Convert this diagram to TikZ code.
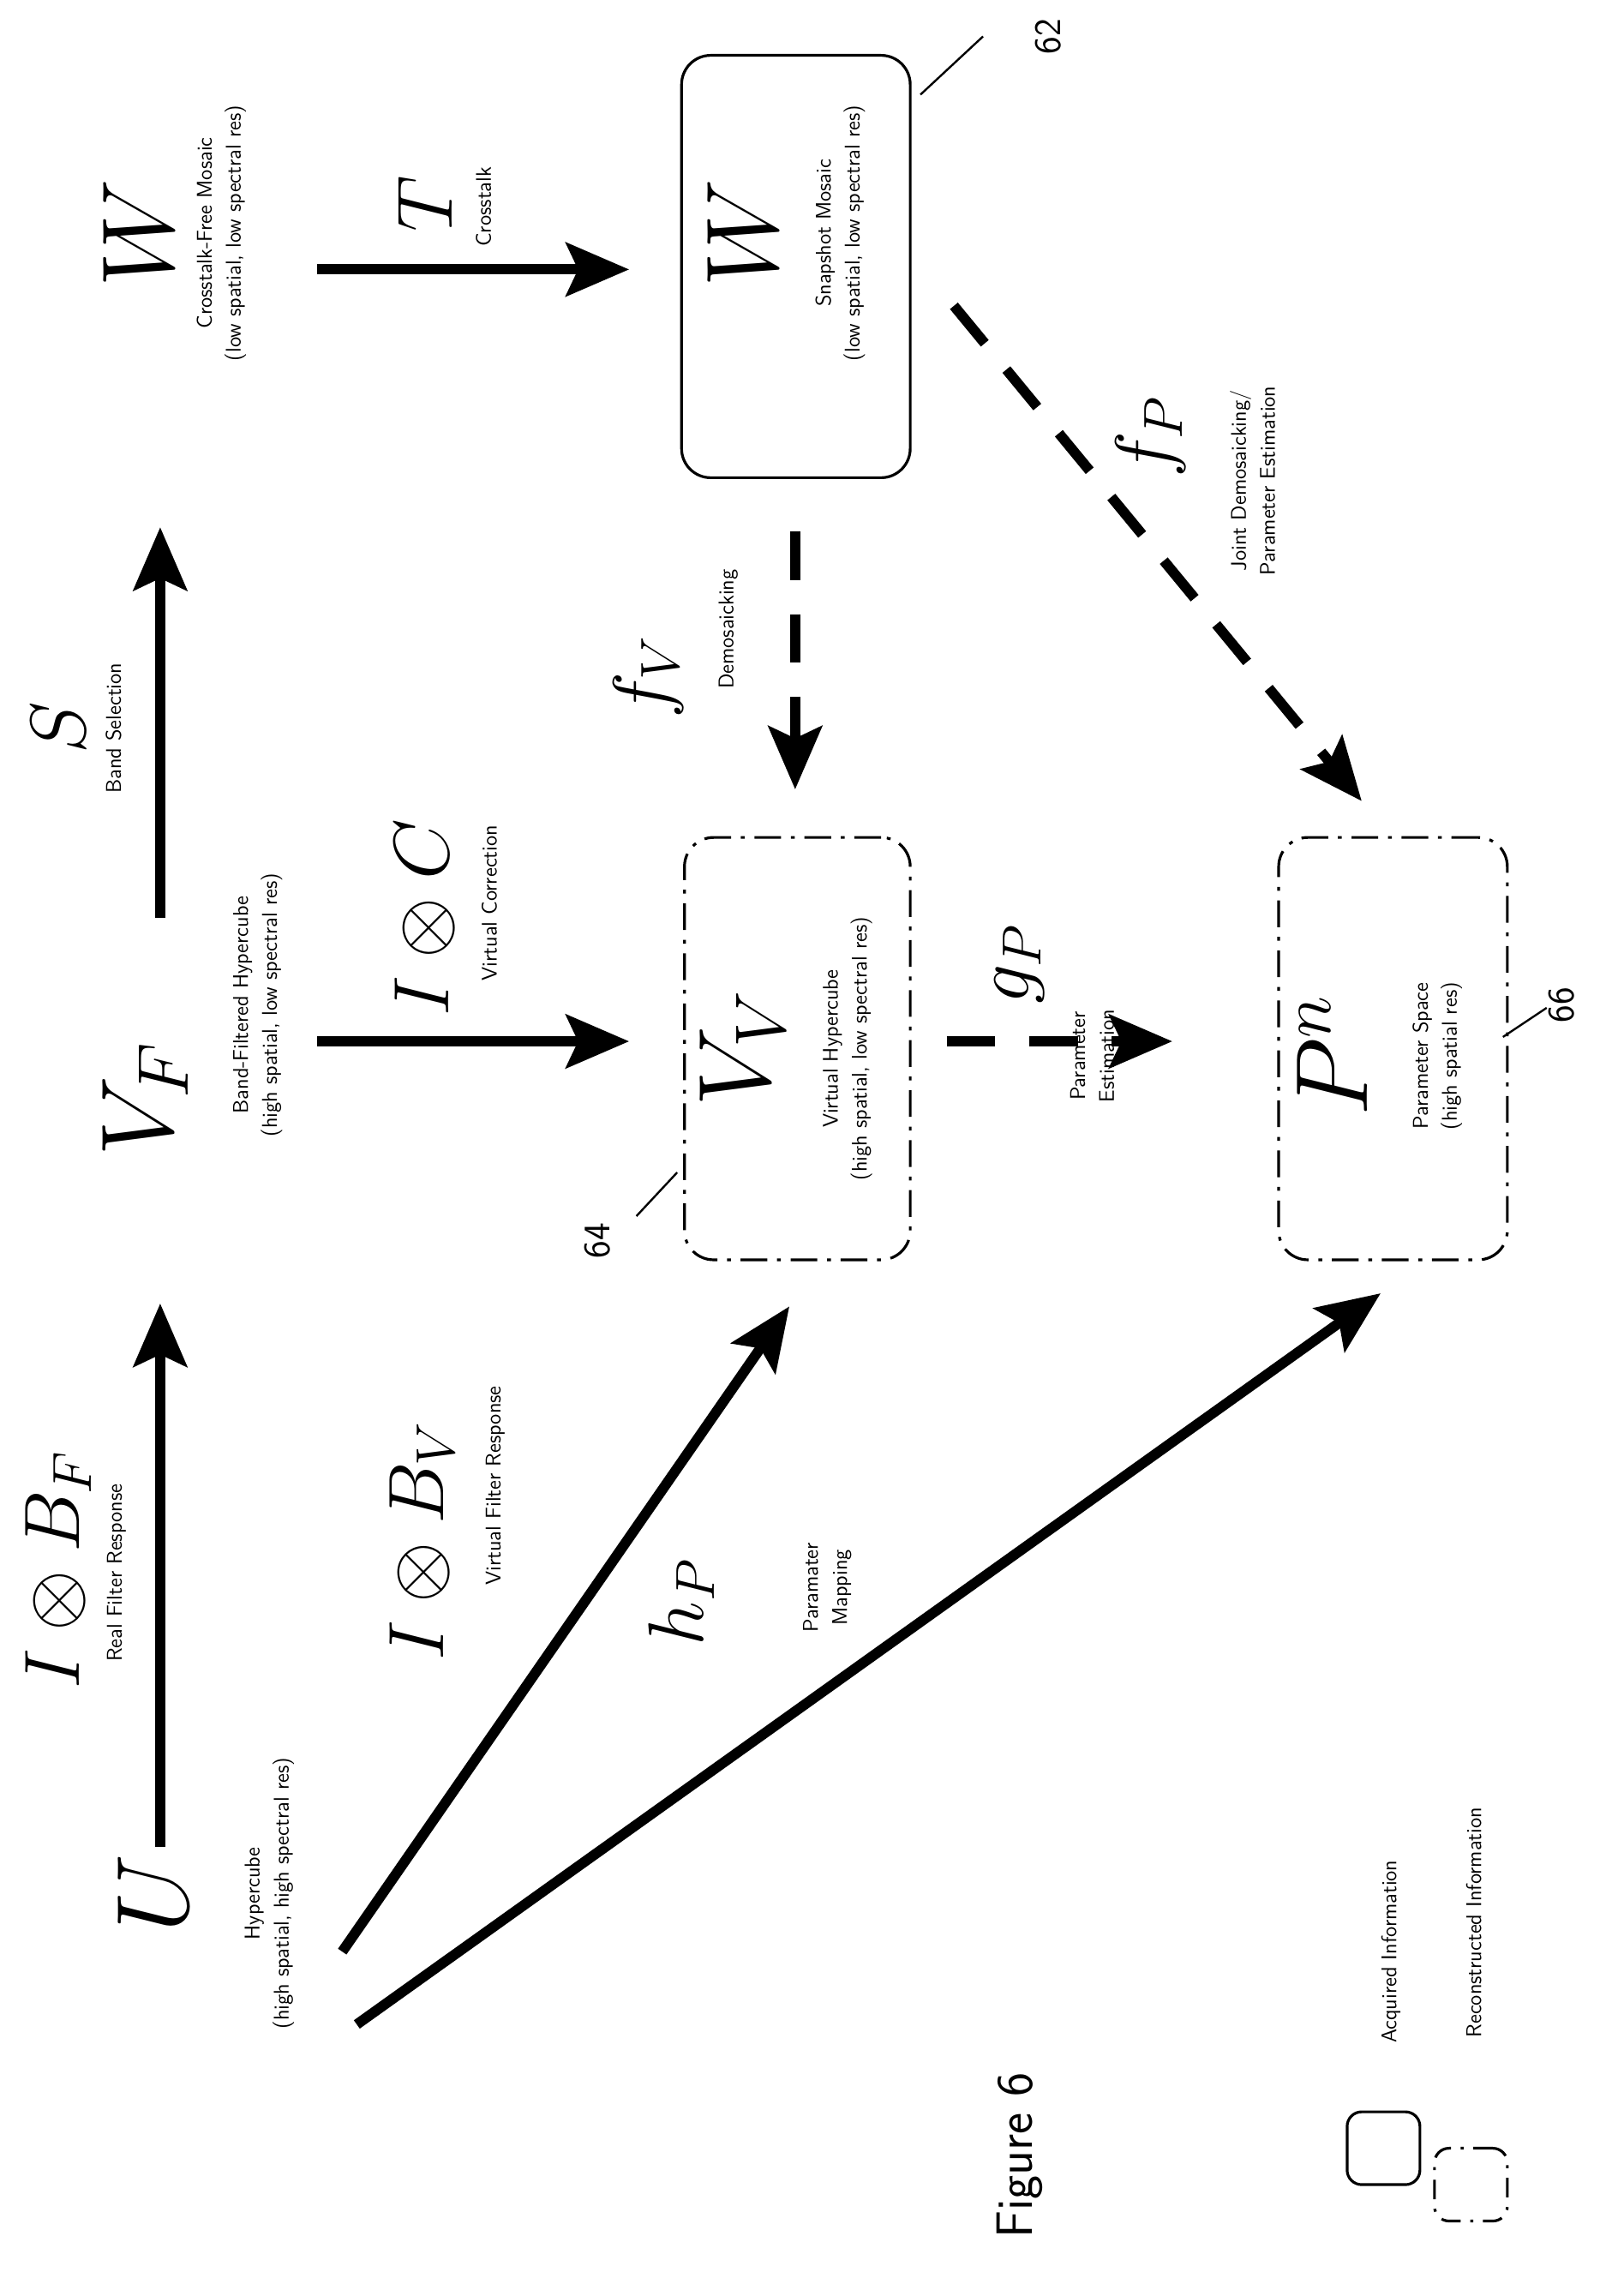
\documentclass[tikz,border=0pt]{standalone}
\usepackage{fix-cm}
\usepackage{amsmath}
\usetikzlibrary{arrows.meta}
\begin{document}
\begin{tikzpicture}[x=0.03cm,y=-0.03cm,
  big/.style={rotate=90,inner sep=0pt,font=\fontsize{60}{60}\selectfont},
  mid/.style={rotate=90,inner sep=0pt,font=\fontsize{46}{46}\selectfont},
  lab/.style={rotate=90,inner sep=0pt,align=center,font=\sffamily\fontsize{12.5}{17}\selectfont},
  arr/.style={line width=6pt,-{Stealth[length=1.3cm,width=1.1cm,inset=0.25cm]}},
  darr/.style={arr,dash pattern=on 1cm off 0.7cm},
  acq/.style={draw,line width=1.6pt,rounded corners=0.6cm},
  rec/.style={draw,line width=1.6pt,rounded corners=0.6cm,dash pattern=on 0.55cm off 0.2cm on 0.08cm off 0.2cm}]
\useasboundingbox (0,0) rectangle (1115,1560);
% nodes
\node[big] (U) at (105,1300) {$U$};
\node[lab] (Ul) at (185,1300) {Hypercube\\(high spatial, high spectral res)};
\node[big] (VF) at (100,755) {$V_F$};
\node[lab] (VFl) at (177,690) {Band-Filtered Hypercube\\(high spatial, low spectral res)};
\node[big] (W1) at (95,160) {$W$};
\node[lab] (W1l) at (152,160) {Crosstalk-Free Mosaic\\(low spatial, low spectral res)};
\node[acq,minimum width=157*0.03cm,minimum height=290*0.03cm] (WB) at (546.5,183) {};
\node[big] (W2) at (510,160) {$W$};
\node[lab] (W2l) at (577,160) {Snapshot Mosaic\\(low spatial, low spectral res)};
\node[rec,minimum width=155*0.03cm,minimum height=290*0.03cm] (VB) at (547.5,720) {};
\node[big] (VV) at (510,720) {$V_V$};
\node[lab] (VVl) at (582,720) {Virtual Hypercube\\(high spatial, low spectral res)};
\node[rec,minimum width=157*0.03cm,minimum height=290*0.03cm] (PB) at (956.5,720) {};
\node[big] (P) at (915,725) {$P^n$};
\node[lab] (Pl) at (987,725) {Parameter Space\\(high spatial res)};
% edge labels
\node[mid] (l1) at (40,1078) {$I\otimes B_F$};
\node[lab] (l1t) at (80,1080) {Real Filter Response};
\node[mid] (l2) at (40,500) {$S$};
\node[lab] (l2t) at (78,500) {Band Selection};
\node[mid] (l3) at (292,140) {$T$};
\node[lab] (l3t) at (332,142) {Crosstalk};
\node[mid] (l4) at (292,630) {$I\otimes C$};
\node[lab] (l4t) at (336,620) {Virtual Correction};
\node[mid] (l5) at (445,465) {$f_V$};
\node[lab] (l5t) at (500,432) {Demosaicking};
\node[mid] (l6) at (790,300) {$f_P$};
\node[lab] (l6t) at (860,330) {Joint Demosaicking/\\Parameter Estimation};
\node[mid] (l7) at (700,662) {$g_P$};
\node[lab] (l7t) at (750,725) {Parameter\\Estimation};
\node[mid] (l8) at (290,1058) {$I\otimes B_V$};
\node[lab] (l8t) at (340,1020) {Virtual Filter Response};
\node[mid] (l9) at (468,1100) {$h_P$};
\node[lab] (l9t) at (568,1090) {Paramater\\Mapping};
\node[lab] (r62) at (720,25) {\fontsize{22}{22}\selectfont 62};
\node[lab] (r64) at (410,852) {\fontsize{22}{22}\selectfont 64};
\node[lab] (r66) at (1072,690) {\fontsize{22}{22}\selectfont 66};
\node[rotate=90,inner sep=0pt,font=\sffamily\fontsize{30}{30}\selectfont] (fig) at (700,1480) {Figure 6};
\node[acq,minimum width=50*0.03cm,minimum height=50*0.03cm,rounded corners=0.3cm] (L1) at (950,1475) {};
\node[lab] (L1t) at (955,1340) {Acquired Information};
\node[rec,minimum width=50*0.03cm,minimum height=50*0.03cm,rounded corners=0.3cm,dash pattern=on 0.4cm off 0.2cm on 0.06cm off 0.2cm] (L2) at (1010,1500) {};
\node[lab] (L2t) at (1012,1320) {Reconstructed Information};
% connector coordinates
\coordinate (a1s) at (110,1268); \coordinate (a1e) at (110,895);
\coordinate (a2s) at (110,630); \coordinate (a2e) at (110,362);
\coordinate (a3s) at (218,185); \coordinate (a3e) at (432,185);
\coordinate (a4s) at (218,715); \coordinate (a4e) at (432,715);
\coordinate (a5s) at (546,365); \coordinate (a5e) at (546,542);
\coordinate (a6s) at (655,210); \coordinate (a6e) at (935,550);
\coordinate (a7s) at (650,715); \coordinate (a7e) at (805,715);
\coordinate (a8s) at (235,1340); \coordinate (a8e) at (542,897);
\coordinate (a9s) at (245,1390); \coordinate (a9e) at (948,888);
\draw[arr] (a1s) -- (a1e);
\draw[arr] (a2s) -- (a2e);
\draw[arr] (a3s) -- (a3e);
\draw[arr] (a4s) -- (a4e);
\draw[darr] (a5s) -- (a5e);
\draw[darr] (a6s) -- (a6e);
\draw[darr] (a7s) -- (a7e);
\draw[arr] (a8s) -- (a8e);
\draw[arr] (a9s) -- (a9e);
% reference leader lines
\coordinate (c62a) at (632,65); \coordinate (c62b) at (675,25);
\coordinate (c64a) at (437,835); \coordinate (c64b) at (465,805);
\coordinate (c66a) at (1032,712); \coordinate (c66b) at (1062,692);
\draw[line width=1.2pt] (c62a) -- (c62b);
\draw[line width=1.2pt] (c64a) -- (c64b);
\draw[line width=1.2pt] (c66a) -- (c66b);
\end{tikzpicture}
\end{document}
